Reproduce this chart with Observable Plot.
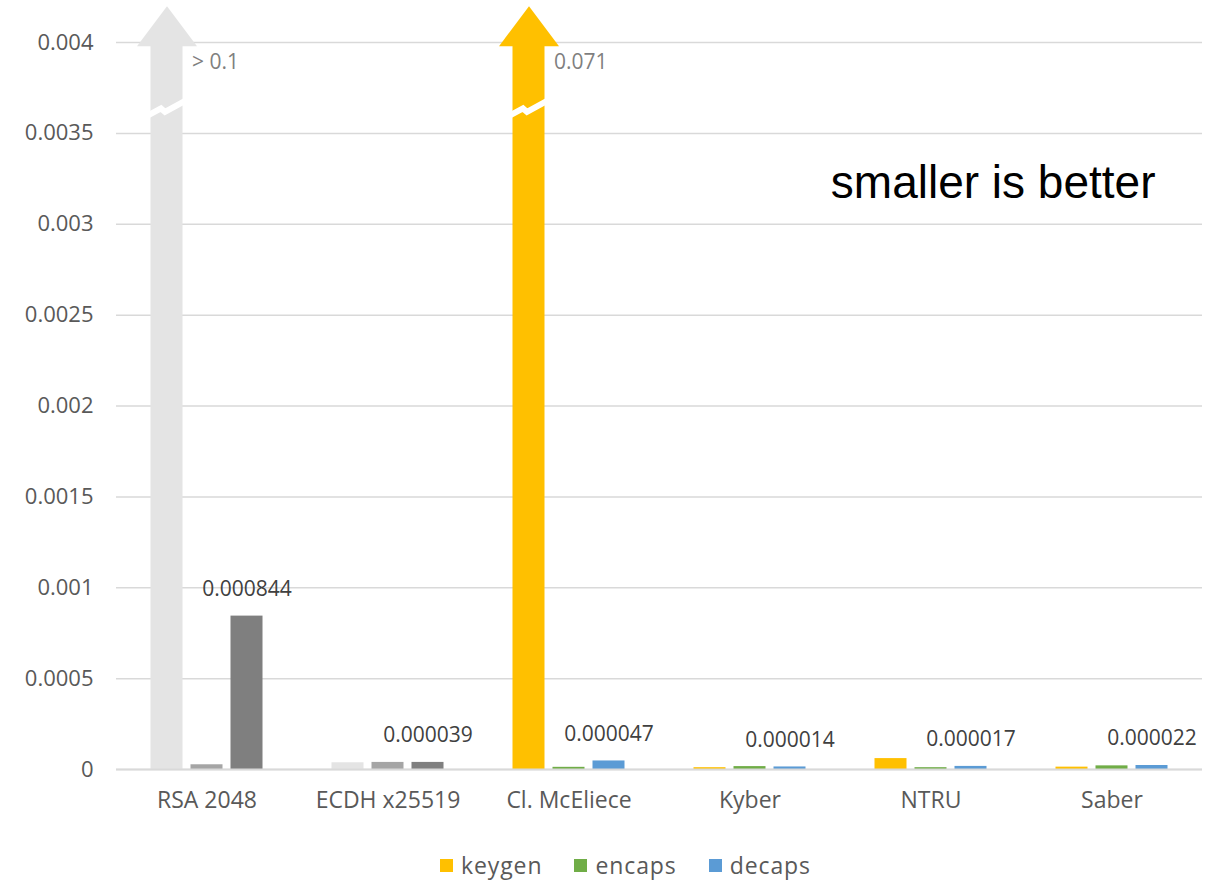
<!DOCTYPE html>
<html>
<head>
<meta charset="utf-8">
<script src="https://cdn.jsdelivr.net/npm/d3@7"></script>
<script src="https://cdn.jsdelivr.net/npm/@observablehq/plot@0.6"></script>
<style>
  html, body { margin: 0; padding: 0; background: #fff; }
  #wrap { position: relative; width: 1209px; height: 880px; overflow: hidden; }
  #legend { position: absolute; top: 849px; left: 440px; display: flex; align-items: center;
            font-family: "Open Sans", sans-serif; font-size: 23px; color: #595959; letter-spacing: 0.9px; }
  #legend .item { display: flex; align-items: center; margin-right: 32px; }
  #legend .sw { width: 13px; height: 13px; margin-right: 8px; }
</style>
</head>
<body>
<div id="wrap"><div id="chart"></div><div id="legend"></div></div>
<script>
// ---- data ----
const categories = ["RSA 2048", "ECDH x25519", "Cl. McEliece", "Kyber", "NTRU", "Saber"];
const series = ["keygen", "encaps", "decaps"];
const keygen = [0.1, 0.000037, 0.071, 0.000010, 0.000060, 0.000013];
const encaps = [0.000026, 0.000039, 0.000012, 0.000016, 0.000010, 0.000020];
const decaps = [0.000844, 0.000039, 0.000047, 0.000014, 0.000017, 0.000022];
const keygenLabels = ["> 0.1", null, "0.071", null, null, null];
const classical = ["RSA 2048", "ECDH x25519"];
const yTicks = [0, 0.0005, 0.001, 0.0015, 0.002, 0.0025, 0.003, 0.0035, 0.004];
const yTickLabels = ["0", "0.0005", "0.001", "0.0015", "0.002", "0.0025", "0.003", "0.0035", "0.004"];
const annotation = "smaller is better";

// ---- styles ----
const seriesColors = {keygen: "#FFC000", encaps: "#70AD47", decaps: "#5B9BD5"};
const grayColors = {keygen: "#E4E4E4", encaps: "#A5A5A5", decaps: "#7F7F7F"};
const yMax = 0.004;
const shaftTop = 0.00398;   // broken (off-scale) bars stop here
const headAt = 0.00409;     // arrow head centre
const breakAt = 0.00364;    // break mark on off-scale bars

const valuesBySeries = {keygen, encaps, decaps};
const rows = [];
categories.forEach((c, i) => series.forEach(s => {
  rows.push({category: c, series: s, value: valuesBySeries[s][i],
             label: s === "keygen" ? keygenLabels[i] : null});
}));
const colorOf = d => (classical.includes(d.category) ? grayColors : seriesColors)[d.series];
const overflow = rows.filter(d => d.value > yMax);
const decapsRows = rows.filter(d => d.series === "decaps");

const arrowHead = {
  draw(ctx, size) {
    const r = Math.sqrt(size / Math.PI);
    const h = r * 4 / 3;
    ctx.moveTo(0, -h / 2);
    ctx.lineTo(r, h / 2);
    ctx.lineTo(-r, h / 2);
    ctx.closePath();
  }
};
const zigzag = {
  draw(ctx, size) {
    const r = Math.sqrt(size / Math.PI);
    const k = r / 18;
    ctx.moveTo(-19 * k, 7.5 * k);
    ctx.lineTo(-6 * k, 0.5 * k);
    ctx.lineTo(-2 * k, 4 * k);
    ctx.lineTo(19 * k, -7.5 * k);
  }
};

const chart = Plot.plot({
  width: 1209,
  height: 830,
  marginTop: 42,
  marginBottom: 61,
  marginLeft: 115.5,
  marginRight: 7.5,
  style: {fontFamily: "Open Sans, sans-serif", fontSize: "21px", color: "#595959", background: "#fff"},
  fx: {domain: categories, padding: 0, label: null},
  x: {domain: series, paddingInner: 0.2, paddingOuter: 0.86, axis: null},
  y: {domain: [0, yMax], label: null},
  marks: [
    Plot.gridY(yTicks, {stroke: "#D9D9D9", strokeOpacity: 1, strokeWidth: 1.5}),
    Plot.axisY(yTicks, {tickSize: 0, tickPadding: 23, label: null,
      tickFormat: d => yTickLabels[yTicks.indexOf(d)], fontSize: 22, fill: "#595959", letterSpacing: 0.6}),
    Plot.axisFx({tickSize: 0, tickPadding: 22, label: null, fontSize: 23, fill: "#595959", anchor: "bottom", letterSpacing: 0.4}),
    Plot.barY(rows, {fx: "category", x: "series", y: d => Math.min(d.value, shaftTop), fill: colorOf}),
    Plot.dot(overflow, {fx: "category", x: "series", y: () => headAt, r: 30, symbol: arrowHead, fill: colorOf, stroke: "none"}),
    Plot.dot(overflow, {fx: "category", x: "series", y: () => breakAt, r: 18, symbol: zigzag, fill: "none", stroke: "white", strokeWidth: 6}),
    Plot.text(overflow, {fx: "category", x: "series", y: () => 0.00389, text: "label", textAnchor: "start", dx: 25, fontSize: 21, fill: "#7F7F7F"}),
    Plot.ruleY([0], {stroke: "#D9D9D9", strokeWidth: 2}),
    Plot.text(decapsRows, {fx: "category", x: "series", y: "value", text: d => d.value.toFixed(6), dy: -27, fontSize: 21, fill: "#404040", letterSpacing: 0.9}),
    Plot.text([annotation], {fx: ["Saber"], frameAnchor: "top-right", lineAnchor: "middle", dy: 141, dx: -47, textAnchor: "end",
      fontSize: 46, fill: "#000", fontFamily: "Liberation Sans, Arial, sans-serif", letterSpacing: 1.3})
  ]
});
document.getElementById("chart").appendChild(chart);

const legend = document.getElementById("legend");
series.forEach(s => {
  const item = document.createElement("div");
  item.className = "item";
  const sw = document.createElement("span");
  sw.className = "sw";
  sw.style.background = seriesColors[s];
  const t = document.createElement("span");
  t.textContent = s;
  item.appendChild(sw); item.appendChild(t);
  legend.appendChild(item);
});
</script>
</body>
</html>
